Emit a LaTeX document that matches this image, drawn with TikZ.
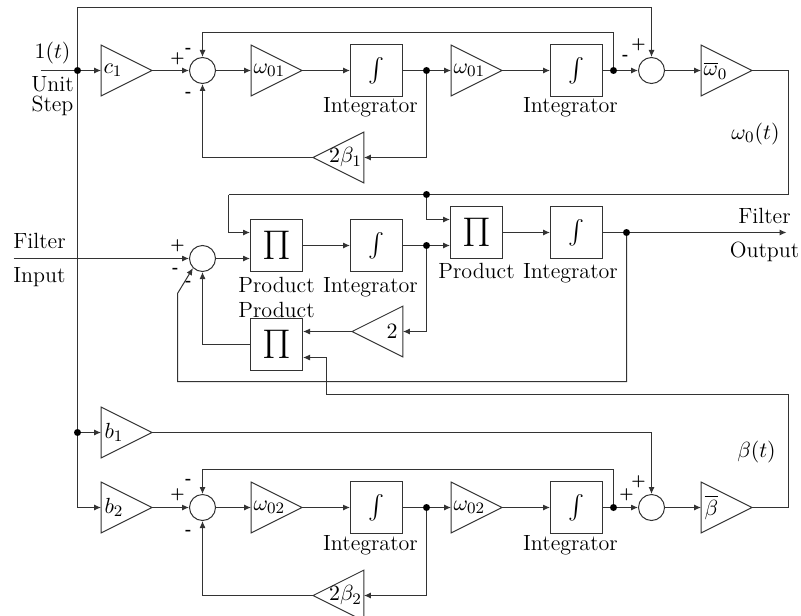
\documentclass[tikz,border=0pt]{standalone}
\usepackage{exscale}
\usetikzlibrary{arrows.meta,calc}
\begin{document}
\begin{tikzpicture}[x=0.5pt,y=-0.5pt,
  every node/.style={font=\fontsize{11}{13}\selectfont},
  wire/.style={draw=black!80, line width=0.5pt},
  arr/.style={wire, -{Latex[length=3.5pt,width=3pt]}},
  blk/.style={draw=black!80, line width=0.5pt, rectangle, minimum size=26pt, inner sep=0pt},
  sumc/.style={draw=black!80, line width=0.5pt, circle, minimum size=13pt, inner sep=0pt},
  tri/.style={rectangle, minimum size=25pt, inner sep=0pt},
  txt/.style={inner sep=0pt, anchor=base},
  sgn/.style={inner sep=0pt, font=\fontsize{7.5}{8}\selectfont\bfseries},
  intg/.style={blk, font=\fontsize{12}{13}\selectfont},
  prod/.style={blk, font=\fontsize{20}{21}\selectfont}
]
\useasboundingbox (-0.5,-0.5) rectangle (800.5,614.5);
\clip (-0.5,-0.5) rectangle (800.5,614.5);

% ---------- top row ----------
\coordinate (in1) at (40,70);
\coordinate (d0) at (77,70);
\node[tri] (c1) at (126,70) {};
\node[sumc] (s1) at (202,70) {};
\node[tri] (w1a) at (276,70) {};
\node[intg] (i1) at (376,70) {$\int$};
\coordinate (d1) at (426,70);
\node[tri] (w1b) at (476,70) {};
\node[intg] (i2) at (576,70) {$\int$};
\coordinate (d2) at (613,70);
\node[sumc] (s2) at (651,70) {};
\node[tri] (wb) at (726,70) {};
\node[tri] (g1) at (338,157) {};

% ---------- middle ----------
\coordinate (fin) at (13,258);
\node[sumc] (s3) at (202,258) {};
\node[prod] (p1) at (276,245) {$\Pi$};
\node[intg] (i3) at (376,245) {$\int$};
\coordinate (d4) at (426,194);
\coordinate (d5) at (426,245);
\node[prod] (p2) at (476,232) {$\Pi$};
\node[intg] (i4) at (576,232) {$\int$};
\coordinate (d6) at (626,232);
\coordinate (fout) at (786,232);
\node[prod] (p3) at (276,344) {$\Pi$};
\node[tri] (g3) at (377,331) {};

% ---------- bottom ----------
\coordinate (d3) at (77,432);
\node[tri] (b1) at (126,432) {};
\node[tri] (b2) at (126,507) {};
\node[sumc] (s5) at (202,507) {};
\node[tri] (w2a) at (276,507) {};
\node[intg] (i5) at (376,507) {$\int$};
\coordinate (d7) at (426,507);
\node[tri] (w2b) at (476,507) {};
\node[intg] (i6) at (576,507) {$\int$};
\coordinate (d8) at (613,507);
\node[sumc] (s6) at (651,507) {};
\node[tri] (bb) at (726,507) {};
\node[tri] (g2) at (338,595) {};

% ---------- triangles ----------
\foreach \n in {c1,w1a,w1b,wb,b1,b2,w2a,w2b,bb}
  \draw[wire] (\n.north west) -- (\n.east) -- (\n.south west) -- cycle;
\foreach \n in {g1,g2,g3}
  \draw[wire] (\n.north east) -- (\n.west) -- (\n.south east) -- cycle;

\node[anchor=west,inner sep=1pt] (c1l) at (c1.west) {$c_1$};
\node[anchor=west,inner sep=1pt] (w1al) at (w1a.west) {$\omega_{01}$};
\node[anchor=west,inner sep=1pt] (w1bl) at (w1b.west) {$\omega_{01}$};
\node[anchor=west,inner sep=1pt] (wbl) at (wb.west) {$\overline{\omega}_0$};
\node[anchor=west,inner sep=1.5pt] (b1l) at (b1.west) {$b_1$};
\node[anchor=west,inner sep=1.5pt] (b2l) at (b2.west) {$b_2$};
\node[anchor=west,inner sep=1pt] (w2al) at (w2a.west) {$\omega_{02}$};
\node[anchor=west,inner sep=1pt] (w2bl) at (w2b.west) {$\omega_{02}$};
\node[anchor=west,inner sep=1.5pt] (bbl) at (bb.west) {$\overline{\beta}$};
\node[anchor=east,inner sep=0.8pt] (g1l) at (g1.east) {$2\beta_1$};
\node[anchor=east,inner sep=0.8pt] (g2l) at (g2.east) {$2\beta_2$};
\node[anchor=east,inner sep=2.5pt] (g3l) at (g3.east) {$2$};

% ---------- texts ----------
\node[txt] (l1t) at (52,58) {$1(t)$};
\node[txt] (lunit) at (52,91) {Unit};
\node[txt] (lstep) at (52,111) {Step};
\node[txt] (lfil) at (39,248) {Filter};
\node[txt] (linp) at (39,282) {Input};
\node[txt] (rfil) at (764,223) {Filter};
\node[txt] (rout) at (764,257) {Output};
\node[txt] (lw0) at (755,139) {$\omega_0(t)$};
\node[txt] (lbt) at (756,457) {$\beta(t)$};
\node[txt] (li1) at (370,112) {Integrator};
\node[txt] (li2) at (570,112) {Integrator};
\node[txt] (li3) at (370,292) {Integrator};
\node[txt] (li4) at (570,278) {Integrator};
\node[txt] (li5) at (370,550) {Integrator};
\node[txt] (li6) at (570,550) {Integrator};
\node[txt] (lp1) at (276,292) {Product};
\node[txt] (lp3) at (276,317) {Product};
\node[txt] (lp2) at (476,278) {Product};

% ---------- signs ----------
\node[sgn] (sg1) at (177,58) {+};
\node[sgn] (sg2) at (188,50) {-};
\node[sgn] (sg3) at (188,94) {-};
\node[sgn] (sg4) at (625,57) {-};
\node[sgn] (sg5) at (638,44) {+};
\node[sgn] (sg6) at (177,245) {+};
\node[sgn] (sg7) at (175,270) {-};
\node[sgn] (sg8) at (188,283) {-};
\node[sgn] (sg9) at (177,494) {+};
\node[sgn] (sg10) at (188,481) {-};
\node[sgn] (sg11) at (188,532) {-};
\node[sgn] (sg12) at (626,494) {+};
\node[sgn] (sg13) at (638,481) {+};

% ---------- connectors ----------
\draw[wire] (in1) -- (d0);
\draw[arr] (d0) -- (c1.west);
\draw[arr] (d0) -- (77,7) -| (s2.north);
\draw[wire] (d0) -- (d3);
\draw[arr] (d3) -- (b1.west);
\draw[arr] (d3) |- (b2.west);
\draw[arr] (c1.east) -- (s1.west);
\draw[arr] (s1.east) -- (w1a.west);
\draw[arr] (w1a.east) -- (i1.west);
\draw[wire] (i1.east) -- (d1);
\draw[arr] (d1) -- (w1b.west);
\draw[arr] (w1b.east) -- (i2.west);
\draw[wire] (i2.east) -- (d2);
\draw[arr] (d2) -- (s2.west);
\draw[arr] (d2) -- (613,32) -| (s1.north);
\draw[arr] (d1) |- (g1.east);
\draw[arr] (g1.west) -| (s1.south);
\draw[arr] (s2.east) -- (wb.west);
\draw[wire] (wb.east) -| (788,194) -- (228,194);
\draw[arr] (228,194) |- ([yshift=6.5pt]p1.west);
\draw[arr] (d4) |- ([yshift=6.5pt]p2.west);
\draw[arr] (fin) -- (s3.west);
\draw[arr] (s3.east) -- ([yshift=-6.5pt]p1.west);
\draw[arr] (p1.east) -- (i3.west);
\draw[wire] (i3.east) -- (d5);
\draw[arr] (d5) -- ([yshift=-6.5pt]p2.west);
\draw[arr] (p2.east) -- (i4.west);
\draw[wire] (i4.east) -- (d6);
\draw[arr] (d6) -- (fout);
\draw[arr] (d6) |- (177,381) -- (177,293) -- (s3.south west);
\draw[arr] (d5) |- (g3.east);
\draw[arr] (g3.west) -- ([yshift=6.5pt]p3.east);
\draw[arr] (p3.west) -| (s3.south);
\draw[arr] (bb.east) -| (788,394) -- (326,394) |- ([yshift=-6.5pt]p3.east);
\draw[arr] (b1.east) -| (s6.north);
\draw[arr] (b2.east) -- (s5.west);
\draw[arr] (s5.east) -- (w2a.west);
\draw[arr] (w2a.east) -- (i5.west);
\draw[wire] (i5.east) -- (d7);
\draw[arr] (d7) -- (w2b.west);
\draw[arr] (w2b.east) -- (i6.west);
\draw[wire] (i6.east) -- (d8);
\draw[arr] (d8) -- (s6.west);
\draw[arr] (d8) -- (613,469) -| (s5.north);
\draw[arr] (d7) |- (g2.east);
\draw[arr] (g2.west) -| (s5.south);
\draw[arr] (s6.east) -- (bb.west);

\foreach \d in {d0,d1,d2,d3,d4,d5,d6,d7,d8}
  \fill[black] (\d) circle (1.75pt);
\end{tikzpicture}
\end{document}
